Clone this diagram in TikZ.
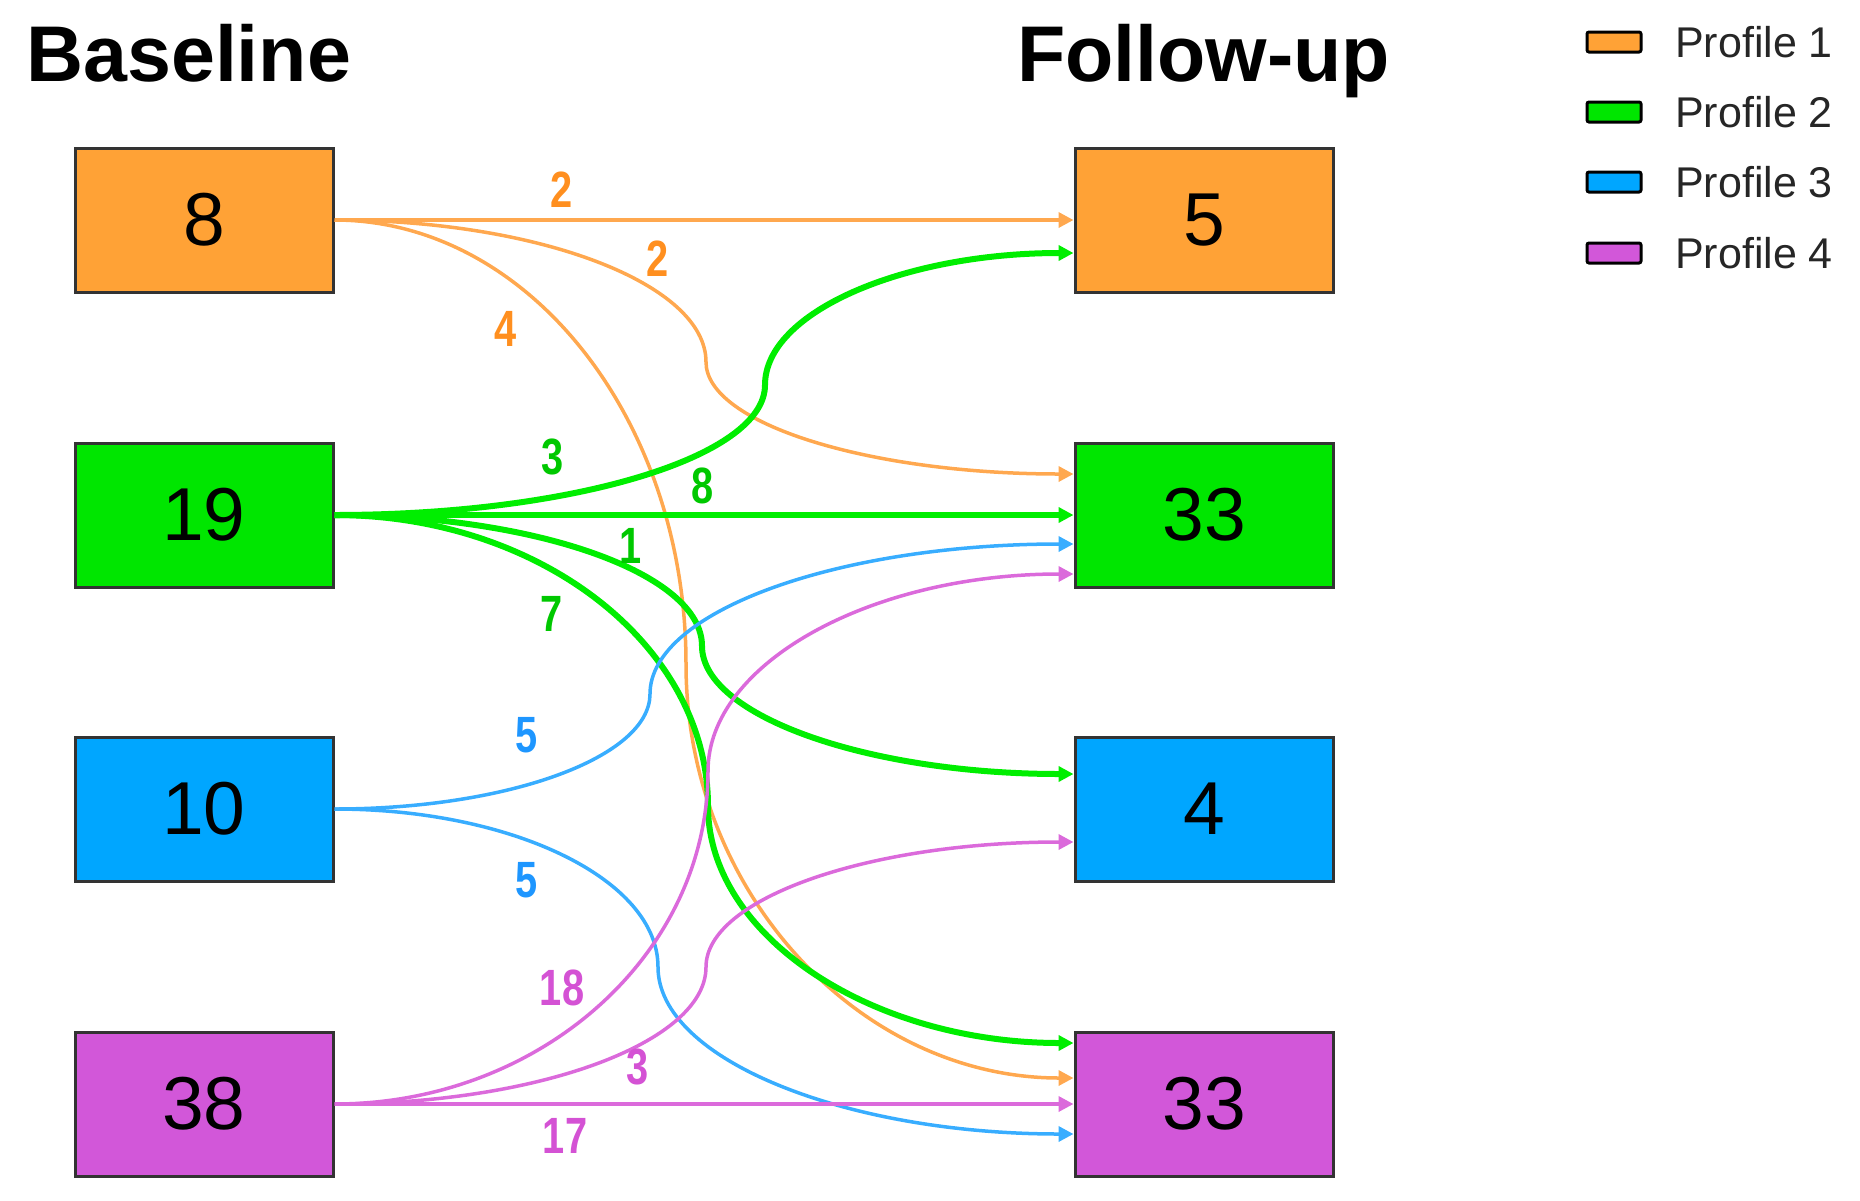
\documentclass[tikz,border=0pt]{standalone}
\usepackage{fontspec}
\usepackage{graphicx}
\setmainfont{Liberation Sans}
\usetikzlibrary{arrows.meta,calc}
\definecolor{pOr}{HTML}{FFA236}
\definecolor{pGr}{HTML}{00E600}
\definecolor{pBl}{HTML}{00A6FF}
\definecolor{pMa}{HTML}{D257D9}
\definecolor{lOr}{HTML}{FFA84F}
\definecolor{lGr}{HTML}{00EE00}
\definecolor{lBl}{HTML}{38ADFF}
\definecolor{lMa}{HTML}{DB6ADB}
\definecolor{tOr}{HTML}{FF8F1F}
\definecolor{tGr}{HTML}{00C800}
\definecolor{tBl}{HTML}{1E96FF}
\definecolor{tMa}{HTML}{D452D4}
\tikzset{
  box/.style={draw=black!80, line width=3pt, minimum width=258pt, minimum height=144pt, inner sep=0pt,
    font=\fontsize{75}{75}\selectfont},
  ttl/.style={anchor=base west, inner sep=0pt, font=\bfseries\fontsize{79}{79}\selectfont},
  swatch/.style={draw=black, line width=3pt, minimum width=54pt, minimum height=20pt, inner sep=0pt, rounded corners=2pt},
  legtxt/.style={anchor=west, inner sep=0pt, text=black!85, font=\fontsize{43}{43}\selectfont},
  lab/.style={inner sep=0pt, font=\bfseries\fontsize{51}{51}\selectfont},
  tip/.style={-{Triangle[length=15pt,width=15pt]}},
  eOr/.style={tip, draw=lOr, line width=3.5pt},
  eGr/.style={tip, draw=lGr, line width=6pt},
  eBl/.style={tip, draw=lBl, line width=3.5pt},
  eMa/.style={tip, draw=lMa, line width=3.5pt},
}
\newcommand{\sq}[1]{\scalebox{0.78}[1]{#1}}
\begin{document}
\begin{tikzpicture}[x=1pt,y=-1pt]
\useasboundingbox (0,0) rectangle (1860,1200);
% titles
\node[ttl] (tb) at (26,81) {Baseline};
\node[ttl] (tf) at (1017,81) {Follow-up};
% boxes
\node[box, fill=pOr] (b1) at (204,220) {8};
\node[box, fill=pGr] (b2) at (204,515) {19};
\node[box, fill=pBl] (b3) at (204,809) {10};
\node[box, fill=pMa] (b4) at (204,1104) {38};
\node[box, fill=pOr] (f1) at (1204,220) {5};
\node[box, fill=pGr] (f2) at (1204,515) {33};
\node[box, fill=pBl] (f3) at (1204,809) {4};
\node[box, fill=pMa] (f4) at (1204,1104) {33};
% legend
\node[swatch, fill=pOr] (s1) at (1614,42) {};
\node[swatch, fill=pGr] (s2) at (1614,112) {};
\node[swatch, fill=pBl] (s3) at (1614,182) {};
\node[swatch, fill=pMa] (s4) at (1614,253) {};
\node[legtxt] (t1) at (1675,42) {Profile 1};
\node[legtxt] (t2) at (1675,112) {Profile 2};
\node[legtxt] (t3) at (1675,182) {Profile 3};
\node[legtxt] (t4) at (1675,253) {Profile 4};
% orange edges
\draw[eOr] (b1.east) -- (f1.west);
\draw[eOr] (b1.east) .. controls +(205,0) and +(0,-78) .. (706,362)
  .. controls +(0,62) and +(-203,0) .. ($(f2.west)+(0,-41)$);
\draw[eOr] (b1.east) .. controls +(194,0) and +(0,-244) .. (686,664)
  .. controls +(0,228) and +(-214,0) .. ($(f4.west)+(0,-26)$);
% green edges
\draw[eGr] (b2.east) .. controls +(238,0) and +(0,72) .. (765,385)
  .. controls +(0,-73) and +(-170,0) .. ($(f1.west)+(0,33)$);
\draw[eGr] (b2.east) -- (f2.west);
\draw[eGr] (b2.east) .. controls +(203,0) and +(0,-72) .. (702,646)
  .. controls +(0,70) and +(-205,0) .. ($(f3.west)+(0,-35)$);
\draw[eGr] (b2.east) .. controls +(206,0) and +(0,-160) .. (708,806)
  .. controls +(0,130) and +(-202,0) .. ($(f4.west)+(0,-61)$);
% blue edges
\draw[eBl] (b3.east) .. controls +(174,0) and +(0,63) .. (650,694)
  .. controls +(0,-83) and +(-234,0) .. ($(f2.west)+(0,29)$);
\draw[eBl] (b3.east) .. controls +(179,0) and +(0,-87) .. (658,967)
  .. controls +(0,92) and +(-229,0) .. ($(f4.west)+(0,30)$);
% magenta edges
\draw[eMa] (b4.east) .. controls +(206,0) and +(0,183) .. (708,771)
  .. controls +(0,-108) and +(-202,0) .. ($(f2.west)+(0,59)$);
\draw[eMa] (b4.east) .. controls +(205,0) and +(0,75) .. (706,967)
  .. controls +(0,-69) and +(-203,0) .. ($(f3.west)+(0,33)$);
\draw[eMa] (b4.east) -- (f4.west);
% labels
\node[lab, text=tOr] (lo1) at (562,190) {\sq{2}};
\node[lab, text=tOr] (lo2) at (658,259) {\sq{2}};
\node[lab, text=tOr] (lo3) at (506,329) {\sq{4}};
\node[lab, text=tGr] (lg1) at (553,457) {\sq{3}};
\node[lab, text=tGr] (lg2) at (703,486) {\sq{8}};
\node[lab, text=tGr] (lg3) at (631,546) {\sq{1}};
\node[lab, text=tGr] (lg4) at (552,614) {\sq{7}};
\node[lab, text=tBl] (lb1) at (527,735) {\sq{5}};
\node[lab, text=tBl] (lb2) at (527,880) {\sq{5}};
\node[lab, text=tMa] (lm1) at (562,988) {\sq{18}};
\node[lab, text=tMa] (lm2) at (638,1067) {\sq{3}};
\node[lab, text=tMa] (lm3) at (565,1136) {\sq{17}};
\end{tikzpicture}
\end{document}
